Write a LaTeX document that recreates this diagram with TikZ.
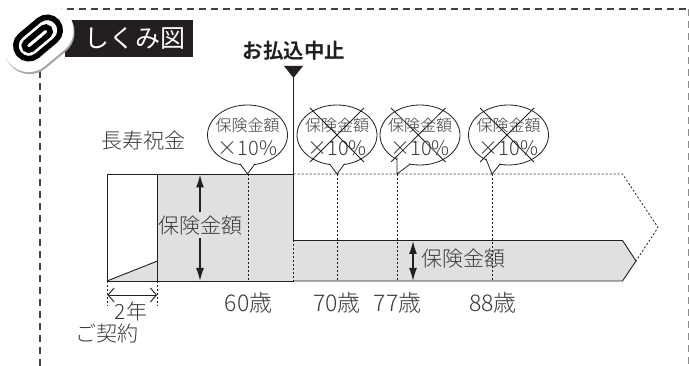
\documentclass[tikz,border=0pt]{standalone}
\usepackage{fontspec}
\setmainfont{Liberation Sans}
\newfontfamily\jp{Noto Sans CJK JP Light}
\newfontfamily\jpr{Noto Sans CJK JP}
\newfontfamily\jpb{Noto Sans CJK JP Bold}
\usetikzlibrary{arrows.meta}
\definecolor{band}{HTML}{DFE0E2}
\definecolor{ink}{HTML}{231F20}
\definecolor{txt}{HTML}{3A3839}
\tikzset{
  lab/.style={font=\jp\fontsize{21}{21}\selectfont,text=txt,inner sep=0pt},
  agelab/.style={font=\jp\fontsize{23}{23}\selectfont,text=txt,inner sep=0pt},
  balloon/.style={draw=ink,line width=0.8pt,fill=white},
  balloontext/.style={font=\jp\fontsize{16}{16}\selectfont,text=txt,inner sep=0pt},
  pcttext/.style={font=\jp\fontsize{20}{20}\selectfont,text=txt,inner sep=0pt},
  solidline/.style={draw=ink,line width=0.9pt},
  dotline/.style={draw=ink,line width=0.8pt,dash pattern=on 2pt off 2pt},
  crossline/.style={draw=ink,line width=0.8pt},
  frameline/.style={draw=ink!85,line width=1.4pt,dash pattern=on 7pt off 5pt},
  bigarrow/.style={draw=ink,line width=1.3pt,-{Latex[length=13pt,width=8pt]}},
}
\begin{document}
\begin{tikzpicture}[x=1pt,y=-1pt]
\useasboundingbox (0,0) rectangle (689,366);
% frame
\coordinate (fa) at (40,366);
\coordinate (fb) at (40,9);
\coordinate (fc) at (688,9);
\coordinate (fd) at (688,366);
\draw[frameline] (fa) -- (fb) -- (fc);
\draw[frameline,draw=black!45,line width=1pt] (fc) -- (fd);
% title
\fill[ink] (65,20) rectangle (193,57);
\node[font=\jpr\fontsize{25}{25}\selectfont,text=white,inner sep=0pt,anchor=west] (title) at (84.5,38.5) {しくみ図};
% clip
\begin{scope}[shift={(39,40)},rotate=40]
  \fill[black!35,rounded corners=25pt] (-38,-26) rectangle (38,26);
\end{scope}
\begin{scope}[shift={(38,38)},rotate=40]
  \fill[white,rounded corners=25pt] (-38,-26) rectangle (38,26);
  \draw[black,line width=5.6pt,line cap=round] (-5,-13) -- (12,-13) arc[start angle=-90,end angle=90,radius=13] -- (-12,13) arc[start angle=90,end angle=270,radius=13] -- (-5,-13);
  \draw[black,line width=5.6pt,line cap=round] (2,4.5) -- (-12,4.5) arc[start angle=90,end angle=270,radius=4.5] -- (10,-4.5) arc[start angle=-90,end angle=90,radius=4.5] -- (4,4.5);
\end{scope}
% grey areas
\fill[band] (107,281) -- (157.5,261) -- (157.5,174) -- (293,174) -- (293,240.5) -- (622.5,240.5) -- (636,261) -- (622.5,281) -- cycle;
% chart coordinates
\coordinate (bl) at (107,281);
\coordinate (tl) at (107,174);
\coordinate (tm) at (157.5,174);
\coordinate (wm) at (157.5,261);
\coordinate (bm) at (157.5,281);
\coordinate (stopt) at (293.5,78);
\coordinate (stopb) at (293.5,240.5);
\coordinate (stopm) at (293.5,174);
\coordinate (bandb) at (293.5,281);
\coordinate (bandc) at (622.5,240.5);
\coordinate (tip) at (636,261);
\coordinate (bandd) at (622.5,281);
\coordinate (dotc) at (622.5,174);
\coordinate (dottip) at (658,227.5);
% dotted verticals
\foreach \n/\x in {a/248,b/337,c/397,d/492}{
  \coordinate (v\n t) at (\x,174);
  \coordinate (v\n b) at (\x,281);
  \draw[dotline] (v\n t) -- (v\n b);
}
\coordinate (e1) at (107,306); \coordinate (e2) at (157.5,306);
\draw[dotline] (bl) -- (e1);
\draw[dotline] (bm) -- (e2);
\draw[dotline] (stopb) -- (bandb);
\draw[dotline] (stopm) -- (dotc) -- (dottip) -- (tip);
% solid outline
\draw[solidline] (bm) -- (tm) -- (tl) -- (bl) -- (bandb);
\draw[solidline] (bl) -- (wm);
\draw[solidline] (tm) -- (stopm);
\draw[solidline] (stopt) -- (stopb) -- (bandc) -- (tip) -- (bandd) -- (bandb);
% stop marker
\fill[ink] (284,66) -- (303,66) -- (293.5,78) -- cycle;
\node[font=\jpb\fontsize{20.5}{20.5}\selectfont,text=ink,inner sep=0pt] (stop) at (294,51) {お払込中止};
% balloons
\foreach \cx in {247.5,337,420,508.5}{
  \draw[balloon] (\cx,135) ellipse[x radius=40,y radius=30];
}
\draw[balloon] (240,163.8) -- (247.5,174) -- (255,163.8);
\draw[balloon] (329.5,163.8) -- (337,174) -- (344.5,163.8);
\draw[balloon] (397,157.5) -- (397,174) -- (410,164.2);
\draw[balloon] (486,159) -- (492,174) -- (500,164.2);
\fill[white] (241,162.5) -- (247.5,171) -- (254,162.5) -- cycle;
\fill[white] (330.5,162.5) -- (337,171) -- (343.5,162.5) -- cycle;
\fill[white] (398,157) -- (398,171) -- (409,163) -- cycle;
\fill[white] (487,158) -- (492.5,171) -- (499,163) -- cycle;
% balloon text
\foreach \n/\cx in {1/247.5,2/337,3/420,4/508.5}{
  \node[balloontext] (bt\n) at (\cx,125) {保険金額};
  \node[pcttext] (bp\n) at (\cx,148) {×10\%};
}
% crosses
\foreach \n/\xa/\xb in {2/310/364,3/391/445.5,4/480/534}{
  \coordinate (ca\n) at (\xa,108); \coordinate (cb\n) at (\xb,162);
  \coordinate (cc\n) at (\xb,108); \coordinate (cd\n) at (\xa,162);
  \draw[crossline] (ca\n) -- (cb\n);
  \draw[crossline] (cc\n) -- (cd\n);
}
% labels
\node[lab] (long) at (143,141) {長寿祝金};
\node[lab] (amt1) at (200,226) {保険金額};
\node[lab] (amt2) at (463,259) {保険金額};
\node[agelab] (a60) at (248.5,303) {60歳};
\node[agelab] (a70) at (337,303) {70歳};
\node[agelab] (a77) at (397.5,303) {77歳};
\node[agelab] (a88) at (493,303) {88歳};
\node[lab] (two) at (131,311) {2年};
\node[lab] (keiyaku) at (107,334) {ご契約};
% arrows
\coordinate (ar1) at (200,174.5); \coordinate (ar2) at (200,281);
\coordinate (ar3) at (413,241); \coordinate (ar4) at (413,281);
\coordinate (au) at (200,212); \coordinate (ad) at (200,238);
\draw[bigarrow] (au) -- (ar1);
\draw[bigarrow] (ad) -- (ar2);
\coordinate (arm) at (413,261);
\draw[bigarrow] (arm) -- (ar3);
\draw[bigarrow] (arm) -- (ar4);
\coordinate (ya) at (107.5,295); \coordinate (yb) at (157,295);
\draw[draw=ink,line width=0.9pt,{Straight Barb[length=6pt,width=14pt]}-{Straight Barb[length=6pt,width=14pt]}] (ya) -- (yb);
\end{tikzpicture}
\end{document}
